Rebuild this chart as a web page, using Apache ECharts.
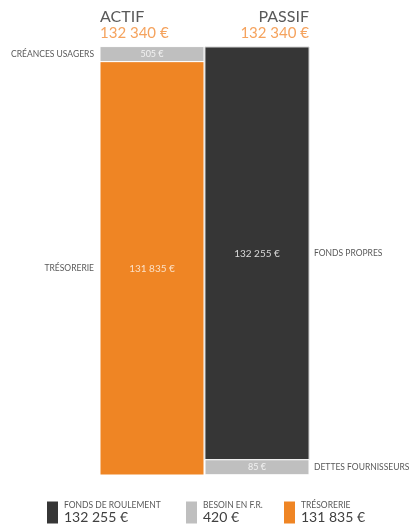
<!DOCTYPE html>
<html lang="fr">
<head>
<meta charset="UTF-8">
<title>Bilan</title>
<script src="https://cdn.jsdelivr.net/npm/echarts@6/dist/echarts.min.js"></script>
<style>
  html, body { margin: 0; padding: 0; background: #fff; }
  #main { width: 411px; height: 529px; }
</style>
</head>
<body>
<div id="main"></div>
<script>
// actif, du bas vers le haut
var actifNames = ['TRÉSORERIE', 'CRÉANCES USAGERS'];
var actifValues = [131835, 505];
// passif, du haut vers le bas
var passifNames = ['FONDS PROPRES', 'DETTES FOURNISSEURS'];
var passifValues = [132255, 85];

var ORANGE = '#EF8524', DARK = '#363636', GREY = '#BFBFBF';
var actifColors = [ORANGE, GREY];
var actifText = ['#FBE0C6', '#F2F2F2'];
var passifColors = [DARK, GREY];
var passifText = ['#D9D9D9', '#F2F2F2'];
var MIN_H = 15;

function fmt(v) {
    return String(v).replace(/\B(?=(\d{3})+(?!\d))/g, ' ') + ' €';
}
function sum(a) { return a.reduce(function (s, v) { return s + v; }, 0); }

var totalActif = sum(actifValues);
var totalPassif = sum(passifValues);
var fondsRoulement = passifValues[0];
var besoinFR = actifValues[1] - passifValues[1];
var tresorerie = fondsRoulement - besoinFR;

var font = 'Lato';

// segments empilés [catégorie, début, fin, index]
function segments(values) {
    var out = [], acc = 0;
    values.forEach(function (v, i) {
        out.push([0, acc, acc + v, i]);
        acc += v;
    });
    return out;
}

function makeSeries(names, values, colors, texts, idx, side) {
    return {
        type: 'custom', xAxisIndex: idx, yAxisIndex: idx, silent: true,
        data: segments(values),
        encode: { x: 0, y: [1, 2] },
        renderItem: function (params, api) {
            var i = api.value(3);
            var p0 = api.coord([api.value(0), api.value(1)]);
            var p1 = api.coord([api.value(0), api.value(2)]);
            var w = api.size([1, 0])[0];
            var h = p1[1] - p0[1];
            if (Math.abs(h) < MIN_H) h = (h < 0 ? -1 : 1) * MIN_H;
            var x = p0[0] - w / 2;
            var y = Math.min(p0[1], p0[1] + h);
            var mid = y + Math.abs(h) / 2;
            return {
                type: 'group',
                children: [{
                    type: 'rect',
                    shape: { x: x, y: y, width: w, height: Math.abs(h) },
                    style: { fill: colors[i], stroke: i === 0 && idx === 1 ? '#d0d0d0' : '#fff', lineWidth: 1 },
                    textContent: {
                        style: {
                            text: fmt(values[i]), fill: texts[i],
                            fontSize: i === 0 ? 10 : 9, fontFamily: font
                        }
                    },
                    textConfig: { position: 'inside' }
                }, {
                    type: 'text',
                    x: side === 'left' ? x - 6 : x + w + 5,
                    y: mid,
                    style: {
                        text: names[i], fill: '#595959', fontSize: 8.5, fontFamily: font,
                        align: side === 'left' ? 'right' : 'left', verticalAlign: 'middle'
                    }
                }]
            };
        }
    };
}

var series = [
    makeSeries(actifNames, actifValues, actifColors, actifText, 0, 'left'),
    makeSeries(passifNames, passifValues, passifColors, passifText, 1, 'right')
];

// séries vides pour la légende
var legendItems = [
    { name: 'FONDS DE ROULEMENT', value: fondsRoulement, color: DARK, left: 47 },
    { name: 'BESOIN EN F.R.', value: besoinFR, color: GREY, left: 186 },
    { name: 'TRÉSORERIE', value: tresorerie, color: ORANGE, left: 284 }
];
var legends = legendItems.map(function (it) {
    series.push({
        type: 'line', name: it.name, data: [], xAxisIndex: 0, yAxisIndex: 0,
        itemStyle: { color: it.color }, lineStyle: { color: it.color }
    });
    return {
        data: [it.name], left: it.left, top: 501, padding: 0, icon: 'rect',
        itemWidth: 11, itemHeight: 22, itemGap: 0, selectedMode: false,
        formatter: function () {
            return '{a|' + it.name + '}\n{b|' + fmt(it.value) + '}';
        },
        textStyle: {
            padding: [0, 0, 0, 1],
            rich: {
                a: { fontSize: 8.5, color: '#595959', fontFamily: font, lineHeight: 10 },
                b: { fontSize: 14, color: '#404040', fontFamily: font, lineHeight: 14 }
            }
        }
    };
});

var chart = echarts.init(document.getElementById('main'));
chart.setOption({
    animation: false,
    textStyle: { fontFamily: font },
    title: [{
        text: 'ACTIF', subtext: fmt(totalActif), left: 100, top: 9, itemGap: 1, padding: 0,
        textStyle: { fontSize: 16, fontWeight: 'normal', color: '#595959', fontFamily: font },
        subtextStyle: { fontSize: 15, color: '#F5A35E', fontFamily: font }
    }, {
        text: 'PASSIF', subtext: fmt(totalPassif), left: 309, top: 9, itemGap: 1, padding: 0,
        textAlign: 'right',
        textStyle: { fontSize: 16, fontWeight: 'normal', color: '#595959', fontFamily: font },
        subtextStyle: { fontSize: 15, color: '#F5A35E', fontFamily: font }
    }],
    legend: legends,
    grid: [
        { left: 100, width: 104, top: 60, bottom: 54 },
        { left: 205, width: 104, top: 47, bottom: 69 }
    ],
    xAxis: [
        { type: 'category', gridIndex: 0, data: ['ACTIF'], show: false },
        { type: 'category', gridIndex: 1, data: ['PASSIF'], show: false }
    ],
    yAxis: [
        { type: 'value', gridIndex: 0, min: 0, max: totalActif, show: false },
        { type: 'value', gridIndex: 1, min: 0, max: totalPassif, inverse: true, show: false }
    ],
    series: series
});
</script>
</body>
</html>
